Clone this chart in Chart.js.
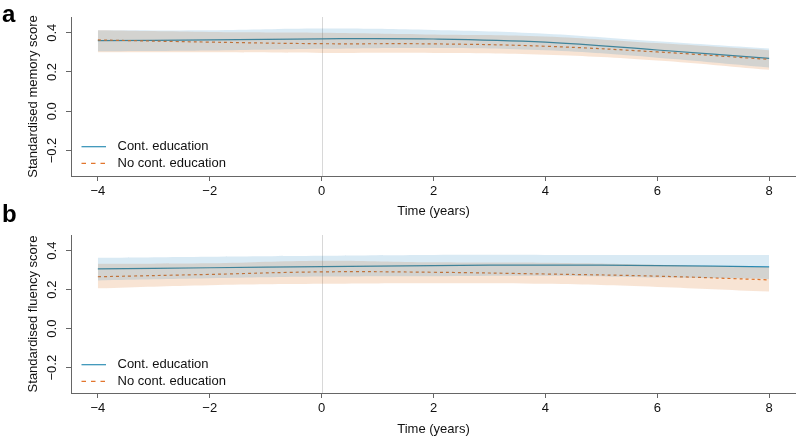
<!DOCTYPE html>
<html>
<head>
<meta charset="utf-8">
<script src="https://cdn.jsdelivr.net/npm/chart.js@4.4.1/dist/chart.umd.min.js"></script>
<style>
  body { margin: 0; background: #fff; width: 796px; height: 437px; overflow: hidden; position: relative; }
  .panel { position: absolute; left: 0; width: 796px; }
  .letter { position: absolute; left: 2px; font: bold 24px 'Liberation Sans', Arial, sans-serif; color: #000; line-height: 24px; }
</style>
</head>
<body>
<div class="panel" style="top:0;height:218px;"><canvas id="chartA" width="796" height="218"></canvas></div>
<div class="panel" style="top:218px;height:219px;"><canvas id="chartB" width="796" height="219"></canvas></div>
<div class="letter" style="top:2px;">a</div>
<div class="letter" style="top:202px;">b</div>
<script>
var years = [-4, -2, 0, 2, 4, 6, 8];
var xTicks = [-4, -2, 0, 2, 4, 6, 8];
var yTicks = [-0.2, 0.0, 0.2, 0.4];
var seriesNames = ['Cont. education', 'No cont. education'];

// panel a - memory
var memCont = [0.360, 0.363, 0.369, 0.368, 0.352, 0.312, 0.269];
var memContLo = [0.305, 0.309, 0.318, 0.322, 0.310, 0.273, 0.223];
var memContHi = [0.412, 0.412, 0.421, 0.414, 0.395, 0.356, 0.319];
var memNo = [0.363, 0.352, 0.344, 0.343, 0.331, 0.302, 0.264];
var memNoLo = [0.301, 0.300, 0.297, 0.297, 0.288, 0.259, 0.211];
var memNoHi = [0.412, 0.404, 0.400, 0.391, 0.381, 0.347, 0.311];

// panel b - fluency
var fluCont = [0.306, 0.312, 0.318, 0.323, 0.326, 0.323, 0.317];
var fluContLo = [0.247, 0.258, 0.267, 0.269, 0.271, 0.262, 0.255];
var fluContHi = [0.363, 0.369, 0.374, 0.378, 0.378, 0.378, 0.378];
var fluNo = [0.266, 0.278, 0.291, 0.289, 0.280, 0.269, 0.250];
var fluNoLo = [0.207, 0.223, 0.230, 0.233, 0.230, 0.214, 0.190];
var fluNoHi = [0.333, 0.335, 0.348, 0.340, 0.338, 0.328, 0.315];

var blue = '#2f8fb5';
var orange = '#e2762e';
var blueBand = 'rgba(0,114,178,0.15)';
var orangeBand = 'rgba(213,94,0,0.17)';
var fontFam = "'Liberation Sans', Arial, Helvetica, sans-serif";

Chart.defaults.font.family = fontFam;
Chart.defaults.font.size = 13;
Chart.defaults.color = '#111';

function pts(vals) {
    return years.map(function (x, i) { return { x: x, y: vals[i] }; });
}

function fmt(v) {
    var s = (Math.abs(v) < 1e-9) ? '0' : Math.abs(v).toString();
    return v < -1e-9 ? '\u2212' + s : s;
}

// vertical reference line at year 0
var zeroLine = {
    id: 'zeroLine',
    beforeDatasetsDraw: function (chart) {
        var ctx = chart.ctx, a = chart.chartArea;
        var x = Math.round(chart.scales.x.getPixelForValue(0)) + 0.5;
        ctx.save();
        ctx.strokeStyle = '#d8d8d8';
        ctx.lineWidth = 1;
        ctx.beginPath();
        ctx.moveTo(x, a.top);
        ctx.lineTo(x, a.bottom);
        ctx.stroke();
        ctx.restore();
    }
};

// rotated y tick labels + legend drawn inside the plot
var extras = {
    id: 'extras',
    afterDraw: function (chart) {
        var ctx = chart.ctx;
        var ys = chart.scales.y;
        ctx.save();
        ctx.fillStyle = '#111';
        ctx.font = '13px ' + fontFam;
        ctx.textAlign = 'center';
        ctx.textBaseline = 'middle';
        yTicks.forEach(function (t) {
            var y = ys.getPixelForValue(t);
            ctx.save();
            ctx.translate(52.5, y);
            ctx.rotate(-Math.PI / 2);
            ctx.fillText(t.toFixed(1).replace('-', '\u2212'), 0, 0);
            ctx.restore();
        });
        // legend
        var rows = [146.7, 163.3];
        var cols = [blue, orange];
        var dashes = [[], [4.5, 5]];
        ctx.textAlign = 'left';
        for (var i = 0; i < 2; i++) {
            ctx.strokeStyle = cols[i];
            ctx.lineWidth = 1.2;
            ctx.setLineDash(dashes[i]);
            ctx.beginPath();
            ctx.moveTo(81.5, rows[i]);
            ctx.lineTo(106, rows[i]);
            ctx.stroke();
            ctx.setLineDash([]);
            ctx.fillText(seriesNames[i], 117.5, rows[i]);
        }
        ctx.restore();
    }
};

function createPanel(id, yTitle, cont, contLo, contHi, noc, nocLo, nocHi, xHeight, titlePad) {
    var ctx = document.getElementById(id);
    // bands are painted over the lines, blue band on top
    return new Chart(ctx, {
        type: 'line',
        data: {
            datasets: [
                { label: seriesNames[0], data: pts(cont), borderColor: blue, borderWidth: 1.2, order: 3, fill: false },
                { label: seriesNames[1], data: pts(noc), borderColor: orange, borderWidth: 1.2, borderDash: [3, 3], order: 2, fill: false },
                { label: 'cont lo', data: pts(contLo), borderWidth: 0, borderColor: 'rgba(0,0,0,0)', order: 0, fill: false },
                { label: 'cont hi', data: pts(contHi), borderWidth: 0, borderColor: 'rgba(0,0,0,0)', backgroundColor: blueBand, order: 0, fill: '-1' },
                { label: 'no lo', data: pts(nocLo), borderWidth: 0, borderColor: 'rgba(0,0,0,0)', order: 1, fill: false },
                { label: 'no hi', data: pts(nocHi), borderWidth: 0, borderColor: 'rgba(0,0,0,0)', backgroundColor: orangeBand, order: 1, fill: '-1' }
            ]
        },
        options: {
            responsive: false,
            animation: false,
            layout: { padding: { top: 17, right: 0, bottom: 0, left: 0 } },
            elements: {
                point: { radius: 0, hoverRadius: 0 },
                line: { tension: 0.4 }
            },
            plugins: {
                legend: { display: false },
                tooltip: { enabled: false }
            },
            scales: {
                x: {
                    type: 'linear',
                    min: -4.48,
                    max: 8.48,
                    afterFit: function (scale) { scale.height = xHeight; },
                    border: { display: true, color: '#666', width: 1 },
                    grid: { drawOnChartArea: false, drawTicks: true, tickLength: 5, color: '#666' },
                    ticks: {
                        stepSize: 2,
                        includeBounds: false,
                        padding: 3,
                        color: '#111',
                        maxRotation: 0,
                        callback: function (v) { return fmt(v); }
                    },
                    title: {
                        display: true,
                        text: 'Time (years)',
                        color: '#111',
                        font: { size: 13, lineHeight: 1 },
                        padding: { top: 0, bottom: titlePad }
                    }
                },
                y: {
                    min: -0.33,
                    max: 0.48,
                    afterFit: function (scale) { scale.width = 71; },
                    border: { display: true, color: '#666', width: 1 },
                    grid: { drawOnChartArea: false, drawTicks: true, tickLength: 5, color: '#666' },
                    ticks: { stepSize: 0.2, includeBounds: false, display: false },
                    title: {
                        display: true,
                        text: yTitle,
                        color: '#111',
                        font: { size: 13, lineHeight: 1 },
                        padding: { top: 27, bottom: 0 }
                    }
                }
            }
        },
        plugins: [zeroLine, extras]
    });
}

createPanel('chartA', 'Standardised memory score', memCont, memContLo, memContHi, memNo, memNoLo, memNoHi, 42, 0);
createPanel('chartB', 'Standardised fluency score', fluCont, fluContLo, fluContHi, fluNo, fluNoLo, fluNoHi, 44, 1.5);
</script>
</body>
</html>
